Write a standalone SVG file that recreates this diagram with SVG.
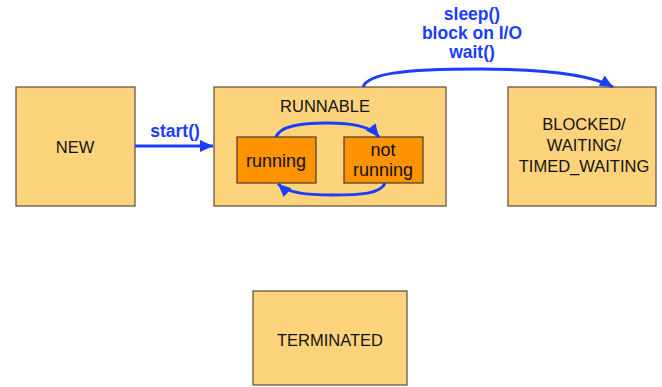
<svg xmlns="http://www.w3.org/2000/svg" width="662" height="387" viewBox="0 0 662 387">
<defs>
<style>
.box{fill:#FDD47C;stroke:#5a4c3c;stroke-width:1.2}
.inner{fill:#FF9300;stroke:#4a3a2a;stroke-width:1.2}
.t{font-family:"Liberation Sans",Arial,sans-serif;font-size:16.5px;fill:#111;text-anchor:middle}
.ti{font-family:"Liberation Sans",Arial,sans-serif;font-size:18px;fill:#111;text-anchor:middle}
.lbl{font-family:"Liberation Sans",Arial,sans-serif;font-size:17.5px;font-weight:bold;fill:#1B3DFF;text-anchor:middle}
.edge{fill:none;stroke:#1B3DFF;stroke-width:3}
</style>
<marker id="ah" markerUnits="userSpaceOnUse" markerWidth="14" markerHeight="14" viewBox="0 0 14 14" refX="13" refY="7" orient="auto">
<path d="M0,1 L13,7 L0,13 Z" fill="#1B3DFF"/>
</marker>
</defs>
<g id="new">
<rect class="box" x="16" y="87" width="119" height="119"/>
<text class="t" x="75" y="153">NEW</text>
</g>
<g id="runnable">
<rect class="box" x="214" y="87" width="232" height="119"/>
<text class="t" x="325" y="112">RUNNABLE</text>
</g>
<g id="running">
<rect class="inner" x="237" y="137" width="79" height="46"/>
<text class="ti" x="276" y="167">running</text>
</g>
<g id="notrunning">
<rect class="inner" x="344" y="137" width="79" height="46"/>
<text class="ti" x="383" y="156">not</text>
<text class="ti" x="383" y="176">running</text>
</g>
<g id="blocked">
<rect class="box" x="508" y="87" width="148" height="119"/>
<text class="t" x="584" y="130">BLOCKED/</text>
<text class="t" x="584" y="151">WAITING/</text>
<text class="t" x="584" y="172">TIMED_WAITING</text>
</g>
<g id="terminated">
<rect class="box" x="253" y="291" width="154" height="94"/>
<text class="t" x="330" y="346">TERMINATED</text>
</g>
<g id="connectors">
<path class="edge" d="M135,146 L213,146" marker-end="url(#ah)"/>
<text class="lbl" x="175" y="137">start()</text>
<path class="edge" d="M276,137 C280,126 300,123 327,123 C352,123 370,126 379,137" marker-end="url(#ah)"/>
<path class="edge" d="M385,183 C381,194 360,195 333,195 C306,195 288,193 278,184" marker-end="url(#ah)"/>
<path class="edge" d="M363,87 C368,74 400,69 480,69 C545,69 590,74 613,87" marker-end="url(#ah)"/>
<text class="lbl" x="472" y="20">sleep()</text>
<text class="lbl" x="472" y="39">block on I/O</text>
<text class="lbl" x="472" y="58">wait()</text>
</g>
</svg>
